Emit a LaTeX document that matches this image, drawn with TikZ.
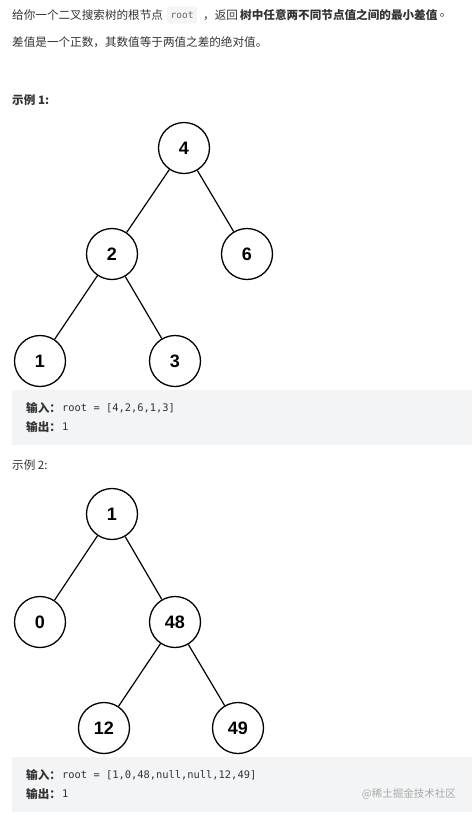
\documentclass[tikz,border=0pt]{standalone}
\usepackage{fontspec}
\setmainfont{Liberation Sans}
\setmonofont{DejaVu Sans Mono}
\newfontfamily\cjk{Noto Sans CJK SC}
\usepackage{xcolor}
\usetikzlibrary{positioning}

\definecolor{codebg}{HTML}{F3F4F5}
\definecolor{bodytxt}{HTML}{333333}
\definecolor{marktxt}{HTML}{A9A9A9}

\begin{document}
\begin{tikzpicture}[x=1pt, y=-1pt,
    tnode/.style={draw, circle, line width=1.3pt, minimum size=51pt,
      inner sep=0pt, font=\fontsize{18}{18}\selectfont\bfseries},
    link/.style={line width=1.2pt},
    txt/.style={anchor=west, inner sep=0pt, text=bodytxt,
      font=\cjk\fontsize{11.6}{14}\selectfont},
    code/.style={anchor=west, inner sep=0pt, text=bodytxt,
      font=\ttfamily\fontsize{10.4}{12}\selectfont},
    panel/.style={fill=codebg, draw=none, anchor=north west,
      minimum width=460pt, minimum height=55pt, inner sep=0pt}
  ]
  \useasboundingbox (0,0) rectangle (472,815);

  % problem statement
  \node[txt] (intro) at (12,15) {给你一个二叉搜索树的根节点};
  \node[fill=codebg, rounded corners=2pt, inner xsep=3.5pt, minimum height=17pt,
    text=black!60, font=\ttfamily\fontsize{9.5}{11}\selectfont,
    anchor=west] (rootcode) at (167,15) {root};
  \node[txt] (ret) at (203,15) {，返回};
  \node[txt, font=\cjk\fontsize{11.6}{14}\selectfont\bfseries] (ask) at (240,15)
    {树中任意两不同节点值之间的最小差值};
  \node[txt, right=2pt of ask] (stop) {。};
  \node[txt] (note) at (12,42) {差值是一个正数，其数值等于两值之差的绝对值。};

  % example 1
  \node[txt, font=\cjk\fontsize{11.6}{14}\selectfont\bfseries] (ex1) at (12,100) {示例 1:};
  \node[tnode] (a4) at (184,148) {4};
  \node[tnode] (a2) at (112,254) {2};
  \node[tnode] (a6) at (247,254) {6};
  \node[tnode] (a1) at (40,361) {1};
  \node[tnode] (a3) at (175,361) {3};
  \draw[link] (a4) -- (a2);
  \draw[link] (a4) -- (a6);
  \draw[link] (a2) -- (a1);
  \draw[link] (a2) -- (a3);

  \node[panel] (panel1) at (12,390) {};
  \node[txt, font=\cjk\fontsize{11.6}{14}\selectfont\bfseries] (in1) at (26,408) {输入：};
  \node[code] (in1v) at (62,408) {root = [4,2,6,1,3]};
  \node[txt, font=\cjk\fontsize{11.6}{14}\selectfont\bfseries] (out1) at (26,427) {输出：};
  \node[code] (out1v) at (62,427) {1};

  % example 2
  \node[txt] (ex2) at (12,465) {示例 2:};
  \node[tnode] (b1) at (112,514) {1};
  \node[tnode] (b0) at (40,622) {0};
  \node[tnode] (b48) at (175,622) {48};
  \node[tnode] (b12) at (104,728) {12};
  \node[tnode] (b49) at (238,728) {49};
  \draw[link] (b1) -- (b0);
  \draw[link] (b1) -- (b48);
  \draw[link] (b48) -- (b12);
  \draw[link] (b48) -- (b49);

  \node[panel] (panel2) at (12,757) {};
  \node[txt, font=\cjk\fontsize{11.6}{14}\selectfont\bfseries] (in2) at (26,775) {输入：};
  \node[code] (in2v) at (62,775) {root = [1,0,48,null,null,12,49]};
  \node[txt, font=\cjk\fontsize{11.6}{14}\selectfont\bfseries] (out2) at (26,794) {输出：};
  \node[code] (out2v) at (62,794) {1};
  \node[txt, anchor=east, text=marktxt, font=\cjk\fontsize{10.5}{12}\selectfont]
    (mark) at (456,794) {@稀土掘金技术社区};
\end{tikzpicture}
\end{document}
